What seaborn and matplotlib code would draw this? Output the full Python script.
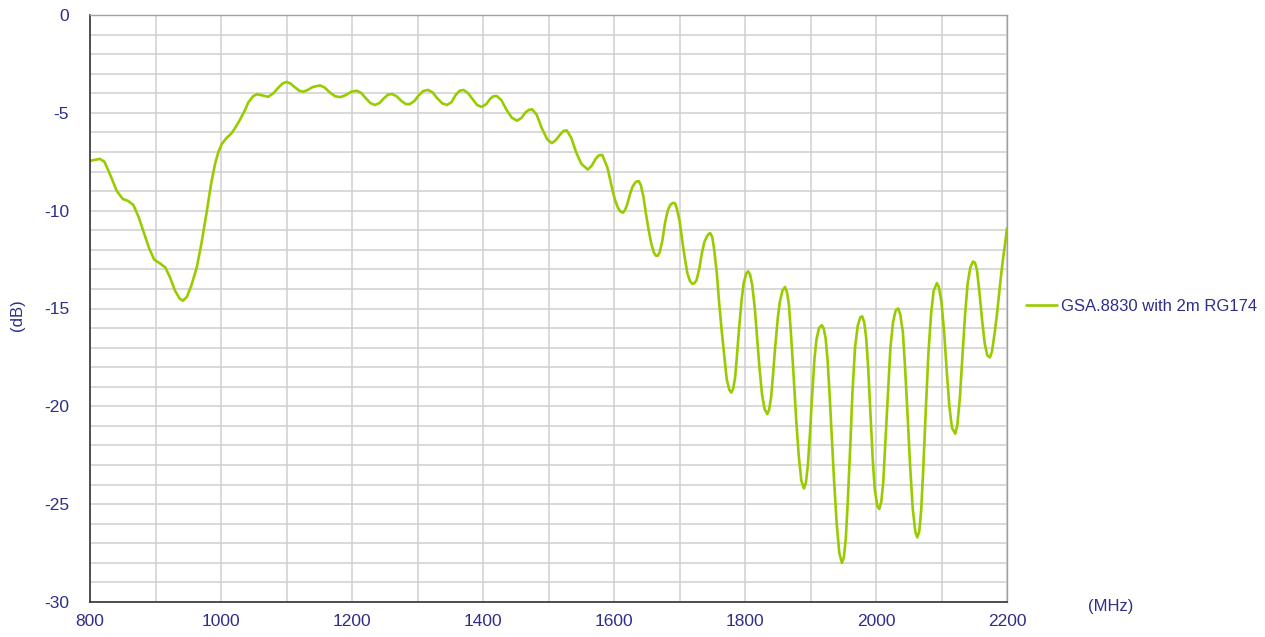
import matplotlib
matplotlib.use("Agg")
import matplotlib.pyplot as plt
import seaborn as sns
import pandas as pd
from matplotlib.ticker import MultipleLocator

# frequency response (MHz, dB)
freq = [800, 808, 815, 822, 830, 841, 850, 858, 866, 874, 881, 890, 898, 907, 915,
        922, 930, 937, 942, 948, 955, 963, 970, 978, 985, 991, 996, 1001, 1008, 1016,
        1022, 1029, 1036, 1042, 1049, 1055, 1062, 1072, 1080, 1088, 1094, 1100, 1106,
        1113, 1120, 1126, 1133, 1140, 1151, 1158, 1166, 1174, 1182, 1190, 1199, 1207,
        1214, 1221, 1228, 1235, 1242, 1249, 1255, 1261, 1268, 1275, 1282, 1288, 1295,
        1302, 1309, 1316, 1323, 1330, 1338, 1345, 1352, 1358, 1364, 1370, 1377, 1384,
        1391, 1398, 1405, 1411, 1416, 1421, 1428, 1436, 1444, 1452, 1459, 1465, 1470,
        1475, 1482, 1490, 1498, 1505, 1511, 1518, 1523, 1528, 1535, 1542, 1550, 1560,
        1566, 1572, 1577, 1582, 1590, 1598, 1602, 1606, 1610, 1614, 1617, 1620, 1624,
        1628, 1632, 1635, 1638, 1641, 1645, 1649, 1653, 1657, 1661, 1664, 1667, 1670,
        1674, 1678, 1682, 1686, 1690, 1693, 1696, 1700, 1704, 1708, 1712, 1716, 1720,
        1723, 1726, 1730, 1734, 1738, 1742, 1745, 1747, 1750, 1753, 1757, 1760, 1764,
        1768, 1772, 1776, 1779, 1782, 1785, 1788, 1791, 1795, 1798, 1802, 1805, 1808,
        1811, 1815, 1818, 1822, 1826, 1830, 1834, 1837, 1840, 1843, 1846, 1850, 1853,
        1857, 1861, 1864, 1867, 1870, 1874, 1878, 1882, 1886, 1890, 1893, 1896, 1899,
        1902, 1906, 1909, 1913, 1917, 1920, 1923, 1926, 1929, 1932, 1936, 1940, 1944,
        1948, 1951, 1954, 1957, 1961, 1964, 1968, 1972, 1976, 1979, 1982, 1985, 1988,
        1991, 1995, 1998, 2002, 2005, 2008, 2011, 2014, 2018, 2022, 2026, 2030, 2034,
        2037, 2041, 2044, 2048, 2052, 2056, 2060, 2063, 2066, 2069, 2072, 2076, 2080,
        2084, 2088, 2093, 2096, 2100, 2104, 2108, 2112, 2116, 2121, 2124, 2128, 2132,
        2136, 2140, 2144, 2148, 2151, 2154, 2158, 2162, 2166, 2170, 2174, 2177, 2181,
        2185, 2189, 2193, 2197, 2200]
gain = [-7.45, -7.4, -7.35, -7.5, -8.1, -9.0, -9.4, -9.5, -9.7, -10.3, -11.0, -11.9, -12.5, -12.7, -12.9,
        -13.4, -14.1, -14.5, -14.6, -14.4, -13.8, -12.9, -11.7, -10.1, -8.6, -7.6, -7.0, -6.6, -6.3, -6.05,
        -5.75, -5.35, -4.9, -4.45, -4.15, -4.05, -4.1, -4.18, -4.0, -3.7, -3.5, -3.42, -3.5,
        -3.7, -3.88, -3.92, -3.82, -3.68, -3.6, -3.7, -3.95, -4.15, -4.2, -4.1, -3.92, -3.87,
        -3.98, -4.25, -4.5, -4.6, -4.5, -4.25, -4.07, -4.04, -4.15, -4.38, -4.55, -4.56, -4.4,
        -4.1, -3.88, -3.83, -3.95, -4.25, -4.52, -4.6, -4.45, -4.1, -3.88, -3.83, -3.98, -4.3,
        -4.6, -4.7, -4.55, -4.28, -4.15, -4.14, -4.35, -4.85, -5.25, -5.4, -5.25, -4.97, -4.85,
        -4.82, -5.1, -5.8, -6.35, -6.55, -6.4, -6.1, -5.92, -5.9, -6.3, -7.0, -7.6, -7.9,
        -7.7, -7.35, -7.17, -7.15, -7.8, -9.0, -9.5, -9.85, -10.05, -10.1, -9.95, -9.7, -9.2,
        -8.8, -8.58, -8.5, -8.5, -8.7, -9.3, -10.2, -11.0, -11.7, -12.15, -12.3, -12.3, -12.1,
        -11.5, -10.6, -10.0, -9.7, -9.6, -9.62, -9.9, -10.5, -11.5, -12.4, -13.2, -13.6, -13.75,
        -13.7, -13.55, -13.0, -12.2, -11.6, -11.3, -11.18, -11.15, -11.35, -12.0, -13.2, -14.5, -16.0,
        -17.3, -18.6, -19.15, -19.3, -19.1, -18.5, -17.3, -16.0, -14.5, -13.7, -13.2, -13.1, -13.3,
        -13.8, -15.0, -16.3, -18.0, -19.4, -20.15, -20.4, -20.15, -19.5, -18.3, -17.0, -15.5, -14.7,
        -14.1, -13.9, -14.15, -14.8, -16.2, -18.3, -20.6, -22.5, -23.8, -24.2, -23.9, -23.0, -21.5,
        -19.7, -17.6, -16.6, -16.0, -15.85, -16.0, -16.5, -17.6, -19.3, -21.2, -23.8, -26.0, -27.5,
        -28.0, -27.7, -26.7, -24.8, -21.8, -19.3, -17.0, -15.9, -15.45, -15.4, -15.7, -16.5, -18.0,
        -20.0, -22.7, -24.2, -25.1, -25.25, -24.9, -23.9, -22.0, -19.4, -17.0, -15.7, -15.1, -15.0,
        -15.3, -16.2, -17.8, -20.3, -23.0, -25.2, -26.4, -26.7, -26.4, -25.3, -23.3, -20.2, -17.3,
        -15.3, -14.1, -13.7, -13.9, -14.7, -16.2, -18.2, -20.0, -21.1, -21.4, -21.0, -19.6, -17.4,
        -15.3, -13.7, -12.9, -12.6, -12.65, -13.0, -14.2, -15.6, -16.8, -17.4, -17.5, -17.2, -16.3,
        -15.2, -13.9, -12.7, -11.7, -10.9]
series_name = "GSA.8830 with 2m RG174"

df = pd.DataFrame({"freq": freq, "gain": gain})

sns.set_theme(style="white")
plt.rcParams["font.family"] = ["Liberation Sans", "DejaVu Sans"]
plt.rcParams["axes.unicode_minus"] = False
txt = "#2e2e8a"

fig = plt.figure(figsize=(12.65, 6.37), dpi=100)
ax = fig.add_axes([90 / 1265, 1 - 602 / 637, 917 / 1265, 587 / 637])

sns.lineplot(data=df, x="freq", y="gain", ax=ax, color="#99cc00", linewidth=1.9,
             label=series_name)

ax.set_xlim(800, 2200)
ax.set_ylim(-30, 0)
ax.xaxis.set_major_locator(MultipleLocator(200))
ax.xaxis.set_minor_locator(MultipleLocator(100))
ax.yaxis.set_major_locator(MultipleLocator(5))
ax.yaxis.set_minor_locator(MultipleLocator(1))
ax.grid(True, which="both", color="#d0d0d0", linewidth=1.1)
ax.set_axisbelow(True)

ax.tick_params(axis="both", which="major", direction="in", length=4, width=1,
               color="#333333", labelcolor=txt, labelsize=12.5)
ax.tick_params(axis="both", which="minor", length=0)
ax.tick_params(axis="x", pad=9)
ax.tick_params(axis="y", pad=15)

for s in ["left", "bottom"]:
    ax.spines[s].set_color("#333333")
    ax.spines[s].set_linewidth(1.2)
for s in ["top", "right"]:
    ax.spines[s].set_color("#a0a0a0")
    ax.spines[s].set_linewidth(1.0)

ax.set_xlabel("")
ax.set_ylabel("")
fig.text(18 / 1265, 1 - 315 / 637, "(dB)", rotation=90, color=txt, fontsize=12,
         ha="center", va="center")
fig.text(1111 / 1265, 1 - 607 / 637, "(MHz)", color=txt, fontsize=12,
         ha="center", va="center")

leg = ax.legend(loc="center left", bbox_to_anchor=(1.0135, 0.503), frameon=False,
                fontsize=12, handlelength=1.85, handletextpad=0.25, borderaxespad=0)
for t in leg.get_texts():
    t.set_color(txt)

fig.savefig("out.png", dpi=100)
